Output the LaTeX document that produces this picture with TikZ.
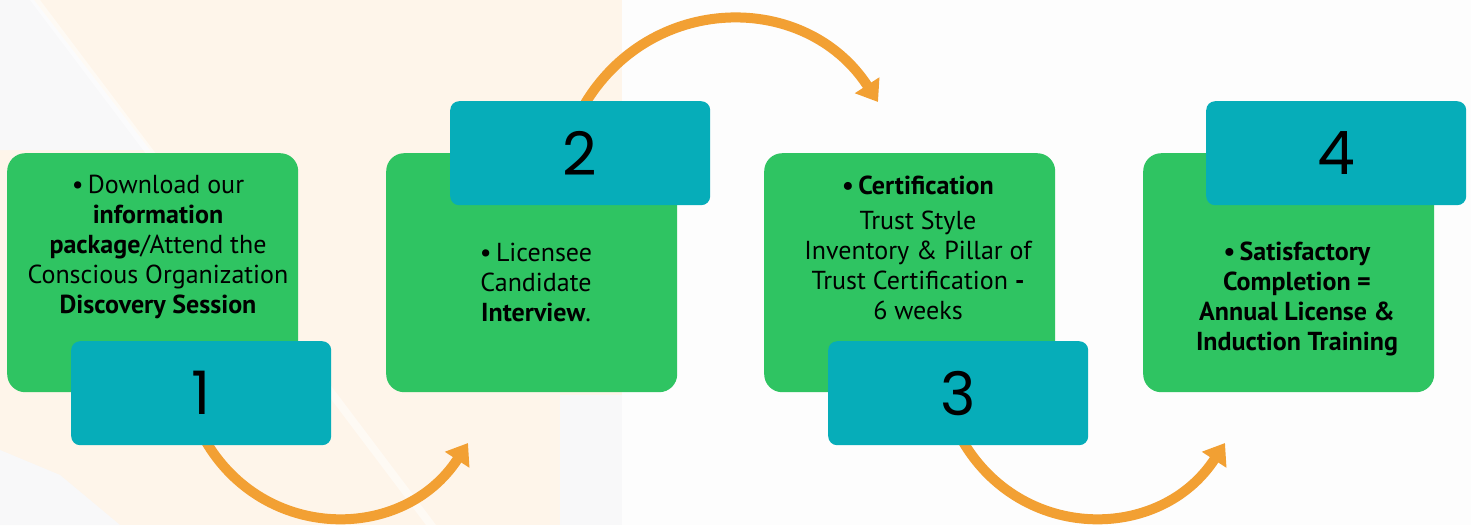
\documentclass[tikz,border=0pt]{standalone}
\usepackage{fontspec}
\setmainfont{PT Sans}
\newfontfamily\numfont{Poppins}
\usetikzlibrary{arrows.meta}
\definecolor{boxgreen}{HTML}{2FC462}
\definecolor{boxteal}{HTML}{06ADB9}
\definecolor{arrorange}{HTML}{F2A033}
\definecolor{peach}{HTML}{FEF5EA}
\definecolor{bgoff}{HTML}{F8F8F9}
\definecolor{bgright}{HTML}{FDFDFD}
\begin{document}
\begin{tikzpicture}[x=1pt,y=1pt,
  greenbox/.style={fill=boxgreen, rounded corners=18pt, minimum width=291pt, minimum height=239pt, anchor=north west, inner sep=0pt},
  tealbox/.style={fill=boxteal, rounded corners=9pt, minimum width=260pt, minimum height=104pt, anchor=north west, inner sep=0pt, font=\numfont\fontsize{60}{60}\selectfont},
  steptext/.style={align=center, font=\fontsize{26}{30}\selectfont, inner sep=0pt},
  flow/.style={draw=arrorange, line width=10pt, -{Triangle[length=20pt,width=28pt]}}]
\useasboundingbox (0,0) rectangle (1471,-525);
% background
\fill[bgright] (0,0) rectangle (1471,-525);
\fill[peach] (0,0) rectangle (622,-525);
\fill[bgoff] (0,0) -- (34,0) -- (150,-150) -- (0,-150) -- cycle;
\fill[bgoff] (0,-450) -- (60,-475) -- (120,-525) -- (0,-525) -- cycle;
\fill[bgoff] (560,-395) rectangle (622,-525);
\fill[white,opacity=0.5] (30,0) -- (40,0) -- (436,-525) -- (426,-525) -- cycle;
% connectors
\coordinate (s1) at (205,-440);
\coordinate (e1) at (468,-443);
\coordinate (s2) at (583,-107);
\coordinate (e2) at (878,-102);
\coordinate (s3) at (962,-440);
\coordinate (e3) at (1225,-443);
\draw[flow] (s1) to[out=-60,in=237,looseness=1.15] (e1);
\draw[flow] (s2) to[out=60,in=123,looseness=1.15] (e2);
\draw[flow] (s3) to[out=-60,in=237,looseness=1.15] (e3);
% green boxes
\node[greenbox] (g1) at (7,-153) {};
\node[greenbox] (g2) at (386,-153) {};
\node[greenbox] (g3) at (764,-153) {};
\node[greenbox] (g4) at (1143,-153) {};
% teal boxes
\node[tealbox] (t1) at (71,-341) {1};
\node[tealbox] (t2) at (450,-101) {2};
\node[tealbox] (t3) at (828,-341) {3};
\node[tealbox] (t4) at (1206,-101) {4};
% texts
\node[steptext] (x1) at (158,-247) {•\,Download our\\ \textbf{information}\\ \textbf{package}/Attend the\\ Conscious Organization\\ \textbf{Discovery Session}};
\node[steptext] (x2) at (536,-282) {•\,Licensee\\ Candidate\\ \textbf{Interview}.};
\node[steptext] (x3) at (918,-248) {\textbf{•\,Certification}\\[5pt] Trust Style\\ Inventory \& Pillar of\\ Trust Certification \textbf{-}\\ 6 weeks};
\node[steptext] (x4) at (1297,-299) {\textbf{•\,Satisfactory}\\ \textbf{Completion =}\\ \textbf{Annual License \&}\\ \textbf{Induction Training}};
\end{tikzpicture}
\end{document}
